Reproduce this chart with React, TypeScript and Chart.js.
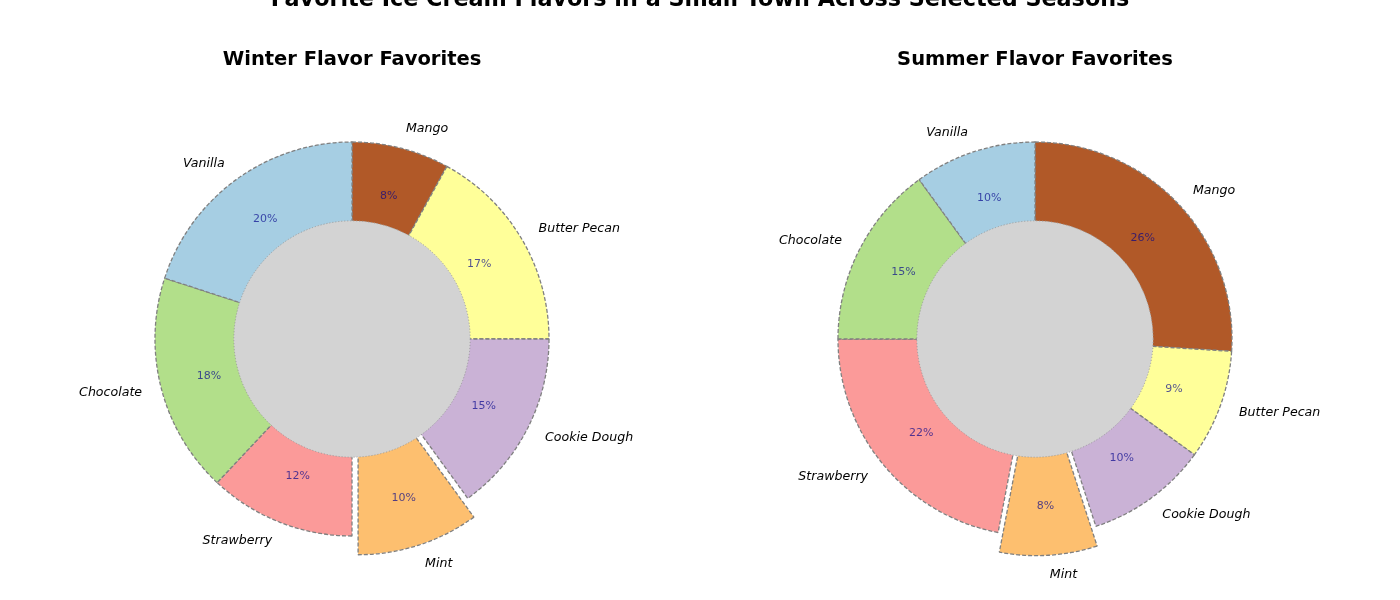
import React, { useEffect, useRef } from 'react';
import Chart from 'chart.js/auto';

const MAIN_TITLE = 'Favorite Ice Cream Flavors in a Small Town Across Selected Seasons';
const FLAVORS = ['Vanilla', 'Chocolate', 'Strawberry', 'Mint', 'Cookie Dough', 'Butter Pecan', 'Mango'];
const WINTER_VALUES = [20, 18, 12, 10, 15, 17, 8];
const SUMMER_VALUES = [10, 15, 22, 8, 10, 9, 26];
const COLORS = ['#a6cee3', '#b2df8a', '#fb9a99', '#fdbf6f', '#cab2d6', '#ffff99', '#b15928'];
const EXPLODE = [0, 0, 0, 0.1, 0, 0, 0];
const WINTER_TITLE = 'Winter Flavor Favorites';
const SUMMER_TITLE = 'Summer Flavor Favorites';

const FONT = "'DejaVu Sans', sans-serif";
const RADIUS = 197;
const HOLE = 0.6;

function makeChart(canvas: HTMLCanvasElement, title: string, values: number[]) {
  // matplotlib draws counter-clockwise from the top; Chart.js draws clockwise, so reverse
  const labels = [...FLAVORS].reverse();
  const data = [...values].reverse();
  const colors = [...COLORS].reverse();
  const shifts = [...EXPLODE].reverse().map((e) => e * RADIUS);
  const total = data.reduce((a, b) => a + b, 0);

  const center = (chart: any) => {
    const ca = chart.chartArea;
    return { cx: (ca.left + ca.right) / 2, cy: (ca.top + ca.bottom) / 2 };
  };

  const plugin = {
    id: 'decor',
    afterDatasetsUpdate(chart: any) {
      // explode wedges by a pure translation along their mid-angle
      const meta = chart.getDatasetMeta(0);
      const { cx, cy } = center(chart);
      meta.data.forEach((arc: any, i: number) => {
        const mid = (arc.startAngle + arc.endAngle) / 2;
        arc.x = cx + Math.cos(mid) * shifts[i];
        arc.y = cy + Math.sin(mid) * shifts[i];
      });
    },
    afterDatasetsDraw(chart: any) {
      const ctx = chart.ctx as CanvasRenderingContext2D;
      const meta = chart.getDatasetMeta(0);
      const { cx, cy } = center(chart);
      const inner = meta.data[0].outerRadius * HOLE;
      ctx.save();
      ctx.beginPath();
      ctx.arc(cx, cy, inner, 0, Math.PI * 2);
      ctx.fillStyle = '#d3d3d3';
      ctx.fill();
      ctx.setLineDash([1, 2]);
      ctx.strokeStyle = '#9a9a9a';
      ctx.lineWidth = 1;
      ctx.stroke();
      ctx.setLineDash([]);

      meta.data.forEach((arc: any, i: number) => {
        const mid = (arc.startAngle + arc.endAngle) / 2;
        const off = shifts[i];
        const R = arc.outerRadius;
        const cos = Math.cos(mid);
        const sin = Math.sin(mid);
        const lr = R * 1.1 + off;
        ctx.font = `italic 12.6px ${FONT}`;
        ctx.fillStyle = '#000';
        ctx.textBaseline = 'middle';
        ctx.textAlign = cos >= 0 ? 'left' : 'right';
        ctx.fillText(labels[i], cx + cos * lr, cy + sin * lr);
        const pr = R * 0.75 + off;
        ctx.font = `11px ${FONT}`;
        ctx.fillStyle = 'rgba(0,0,139,0.68)';
        ctx.textAlign = 'center';
        ctx.fillText(`${Math.round((data[i] / total) * 100)}%`, cx + cos * pr, cy + sin * pr);
      });

      ctx.font = `bold 19.5px ${FONT}`;
      ctx.fillStyle = '#000';
      ctx.textAlign = 'center';
      ctx.textBaseline = 'middle';
      ctx.fillText(title, cx, 60);
      ctx.restore();
    },
  };

  return new Chart(canvas, {
    type: 'doughnut',
    data: {
      labels,
      datasets: [
        {
          data,
          backgroundColor: colors,
          borderColor: '#808080',
          borderWidth: 1.3,
          borderDash: [4, 2],
        } as any,
      ],
    },
    options: {
      responsive: false,
      animation: false,
      radius: RADIUS,
      cutout: 0,
      rotation: 0,
      layout: { padding: { top: 78, bottom: 0, left: 0, right: 0 } },
      plugins: { legend: { display: false }, tooltip: { enabled: false }, title: { display: false } },
      events: [],
    } as any,
    plugins: [plugin],
  });
}

export default function App() {
  const leftRef = useRef<HTMLCanvasElement>(null);
  const rightRef = useRef<HTMLCanvasElement>(null);

  useEffect(() => {
    const c1 = makeChart(leftRef.current!, WINTER_TITLE, WINTER_VALUES);
    const c2 = makeChart(rightRef.current!, SUMMER_TITLE, SUMMER_VALUES);
    return () => {
      c1.destroy();
      c2.destroy();
    };
  }, []);

  return (
    <div style={{ position: 'fixed', left: 0, top: 0, width: 1400, height: 600, background: '#fff', overflow: 'hidden' }}>
      <canvas ref={leftRef} width={704} height={600} style={{ position: 'absolute', left: 0, top: 0 }} />
      <canvas ref={rightRef} width={670} height={600} style={{ position: 'absolute', left: 700, top: 0 }} />
      <div
        style={{
          position: 'absolute',
          left: 0,
          width: 1400,
          top: -15,
          textAlign: 'center',
          fontFamily: FONT,
          fontWeight: 'bold',
          fontSize: 22.3,
          lineHeight: '26px',
          color: '#000',
          whiteSpace: 'nowrap',
        }}
      >
        {MAIN_TITLE}
      </div>
    </div>
  );
}
